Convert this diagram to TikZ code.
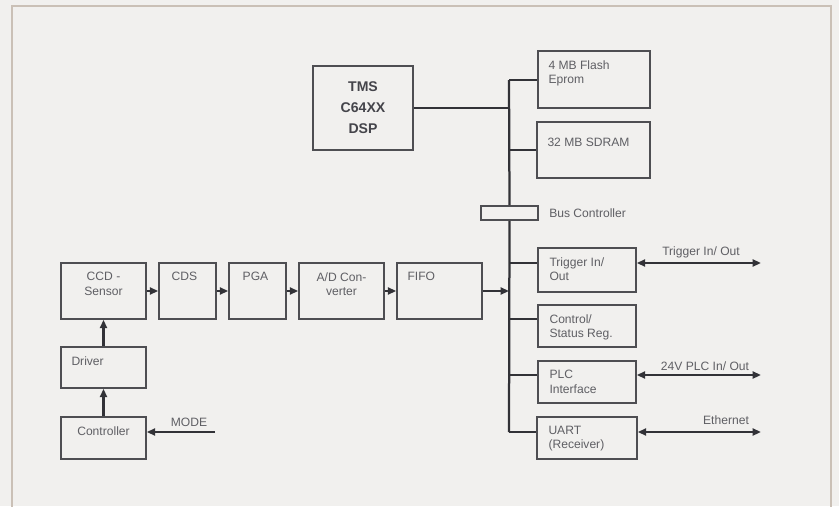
\documentclass[tikz,border=0pt]{standalone}
\usepackage{fontspec}
\setmainfont{Liberation Sans}
\usetikzlibrary{arrows.meta,calc,positioning}
\definecolor{paper}{RGB}{241,240,238}
\definecolor{framecol}{RGB}{202,192,182}
\definecolor{boxline}{RGB}{78,78,82}
\definecolor{busline}{RGB}{50,50,55}
\definecolor{ink}{RGB}{95,95,100}
\definecolor{inkdark}{RGB}{68,68,74}
\def\u{0.025cm}
\tikzset{
    line cap=round,
    line join=round,
    blk/.style={
        rectangle,
        draw=boxline,
        line width=1.1pt,
        fill=paper,
        inner sep=0pt
    },
    intxt/.style={
        font=\fontsize{8.6}{10}\selectfont,
        text=ink,
        inner sep=0pt
    },
    ltxt/.style={
        intxt,
        align=left,
        anchor=north west,
        xshift=11*\u,
        yshift=-10*\u
    },
    ctxt/.style={
        intxt,
        align=center,
        anchor=north,
        yshift=-10*\u
    },
    outtxt/.style={
        intxt
    },
    dsptxt/.style={
        font=\fontsize{10}{15}\selectfont\bfseries,
        text=inkdark,
        align=center
    },
    bus/.style={
        draw=busline,
        line width=1.6pt
    },
    arr/.style={
        -{Triangle[length=6pt,width=5pt]},
        draw=busline,
        line width=1.6pt
    },
    biarr/.style={
        {Triangle[length=6pt,width=5pt]}-{Triangle[length=6pt,width=5pt]},
        draw=busline,
        line width=1.6pt
    },
    frame/.style={
        draw=framecol,
        line width=1.6pt
    }
}

\begin{document}
\begin{tikzpicture}[x=0.025cm, y=-0.025cm]

\path[fill=paper, use as bounding box] (0,0) rectangle (839,506);
\draw[frame] (12,512) -- (12,6) -- (831,6) -- (831,512);

% processor and memories
\node[blk, minimum width=100*\u, minimum height=84*\u, dsptxt] (dsp) at (363,108) {TMS\\C64XX\\DSP};
\node[blk, minimum width=112*\u, minimum height=57*\u,
    label={[ltxt]north west:{4 MB Flash\\Eprom}}] (flash) at (594,79.5) {};
\node[blk, minimum width=113*\u, minimum height=56*\u,
    label={[ltxt, yshift=-7*\u]north west:{32 MB SDRAM}}] (sdram) at (593.5,150) {};
\node[blk, minimum width=57*\u, minimum height=14*\u] (busctl) at (509.5,213) {};
\node[outtxt, anchor=west] (busctllbl) at (549,213) {Bus Controller};

% peripherals on the bus
\node[blk, minimum width=98*\u, minimum height=44*\u,
    label={[ltxt, xshift=1*\u]north west:{Trigger In/\\Out}}] (trig) at (587,270) {};
\node[blk, minimum width=98*\u, minimum height=42*\u,
    label={[ltxt, xshift=1*\u]north west:{Control/\\Status Reg.}}] (csr) at (587,326) {};
\node[blk, minimum width=98*\u, minimum height=42*\u,
    label={[ltxt, xshift=1*\u]north west:{PLC\\Interface}}] (plc) at (587,382) {};
\node[blk, minimum width=100*\u, minimum height=42*\u,
    label={[ltxt, xshift=1*\u]north west:{UART\\(Receiver)}}] (uart) at (587,438) {};

% image chain
\node[blk, minimum width=85*\u, minimum height=56*\u,
    label={[ctxt]north:{CCD -\\Sensor}}] (ccd) at (103.5,291) {};
\node[blk, minimum width=57*\u, minimum height=56*\u,
    label={[ctxt, xshift=-3*\u]north:{CDS}}] (cds) at (187.5,291) {};
\node[blk, minimum width=57*\u, minimum height=56*\u,
    label={[ctxt, xshift=-2*\u]north:{PGA}}] (pga) at (257.5,291) {};
\node[blk, minimum width=85*\u, minimum height=56*\u,
    label={[ctxt]north:{A/D Con-\\verter}}] (adc) at (341.5,291) {};
\node[blk, minimum width=85*\u, minimum height=56*\u,
    label={[ltxt]north west:{FIFO}}] (fifo) at (439.5,291) {};
\node[blk, minimum width=85*\u, minimum height=41*\u,
    label={[ltxt]north west:{Driver}}] (drv) at (103.5,367.5) {};
\node[blk, minimum width=85*\u, minimum height=42*\u,
    label={[ctxt]north:{Controller}}] (ctrl) at (103.5,438) {};

% bus
\coordinate (bustop) at (509,80);
\coordinate (busbot) at (509,432);
\draw[bus] (bustop) -- (busctl.north);
\draw[bus] (busctl.south) -- (busbot);
\draw[bus] (dsp.east) -- (dsp.east -| bustop);
\draw[bus] (bustop) -- (flash.west |- bustop);
\draw[bus] (sdram.west -| bustop) -- (sdram.west);
\foreach \p in {trig, csr, plc} {
    \draw[bus] ([yshift=7*\u]\p.west -| bustop) -- ([yshift=7*\u]\p.west);
}
\draw[bus] (busbot) -- (busbot -| uart.west);

% data path
\draw[arr] (ccd) -- (cds);
\draw[arr] (cds) -- (pga);
\draw[arr] (pga) -- (adc);
\draw[arr] (adc) -- (fifo);
\draw[arr] (fifo.east) -- (fifo.east -| bustop);
\draw[arr] (drv) -- (ccd);
\draw[arr] (ctrl) -- (drv);

% external signals
\coordinate (modein) at (215,432);
\coordinate (trigout) at (761,263);
\coordinate (plcout) at (761,375);
\coordinate (ethout) at (761,432);
\draw[arr] (modein) -- (modein -| ctrl.east);
\node[outtxt] (modelbl) at (189,422) {MODE};
\draw[biarr] (trigout -| trig.east) -- (trigout);
\node[outtxt] (triglbl) at (701,252) {Trigger In/ Out};
\draw[biarr] (plcout -| plc.east) -- (plcout);
\node[outtxt] (plclbl) at (705,366) {24V PLC In/ Out};
\draw[biarr] (ethout -| uart.east) -- (ethout);
\node[outtxt] (ethlbl) at (726,420) {Ethernet};

\end{tikzpicture}
\end{document}
